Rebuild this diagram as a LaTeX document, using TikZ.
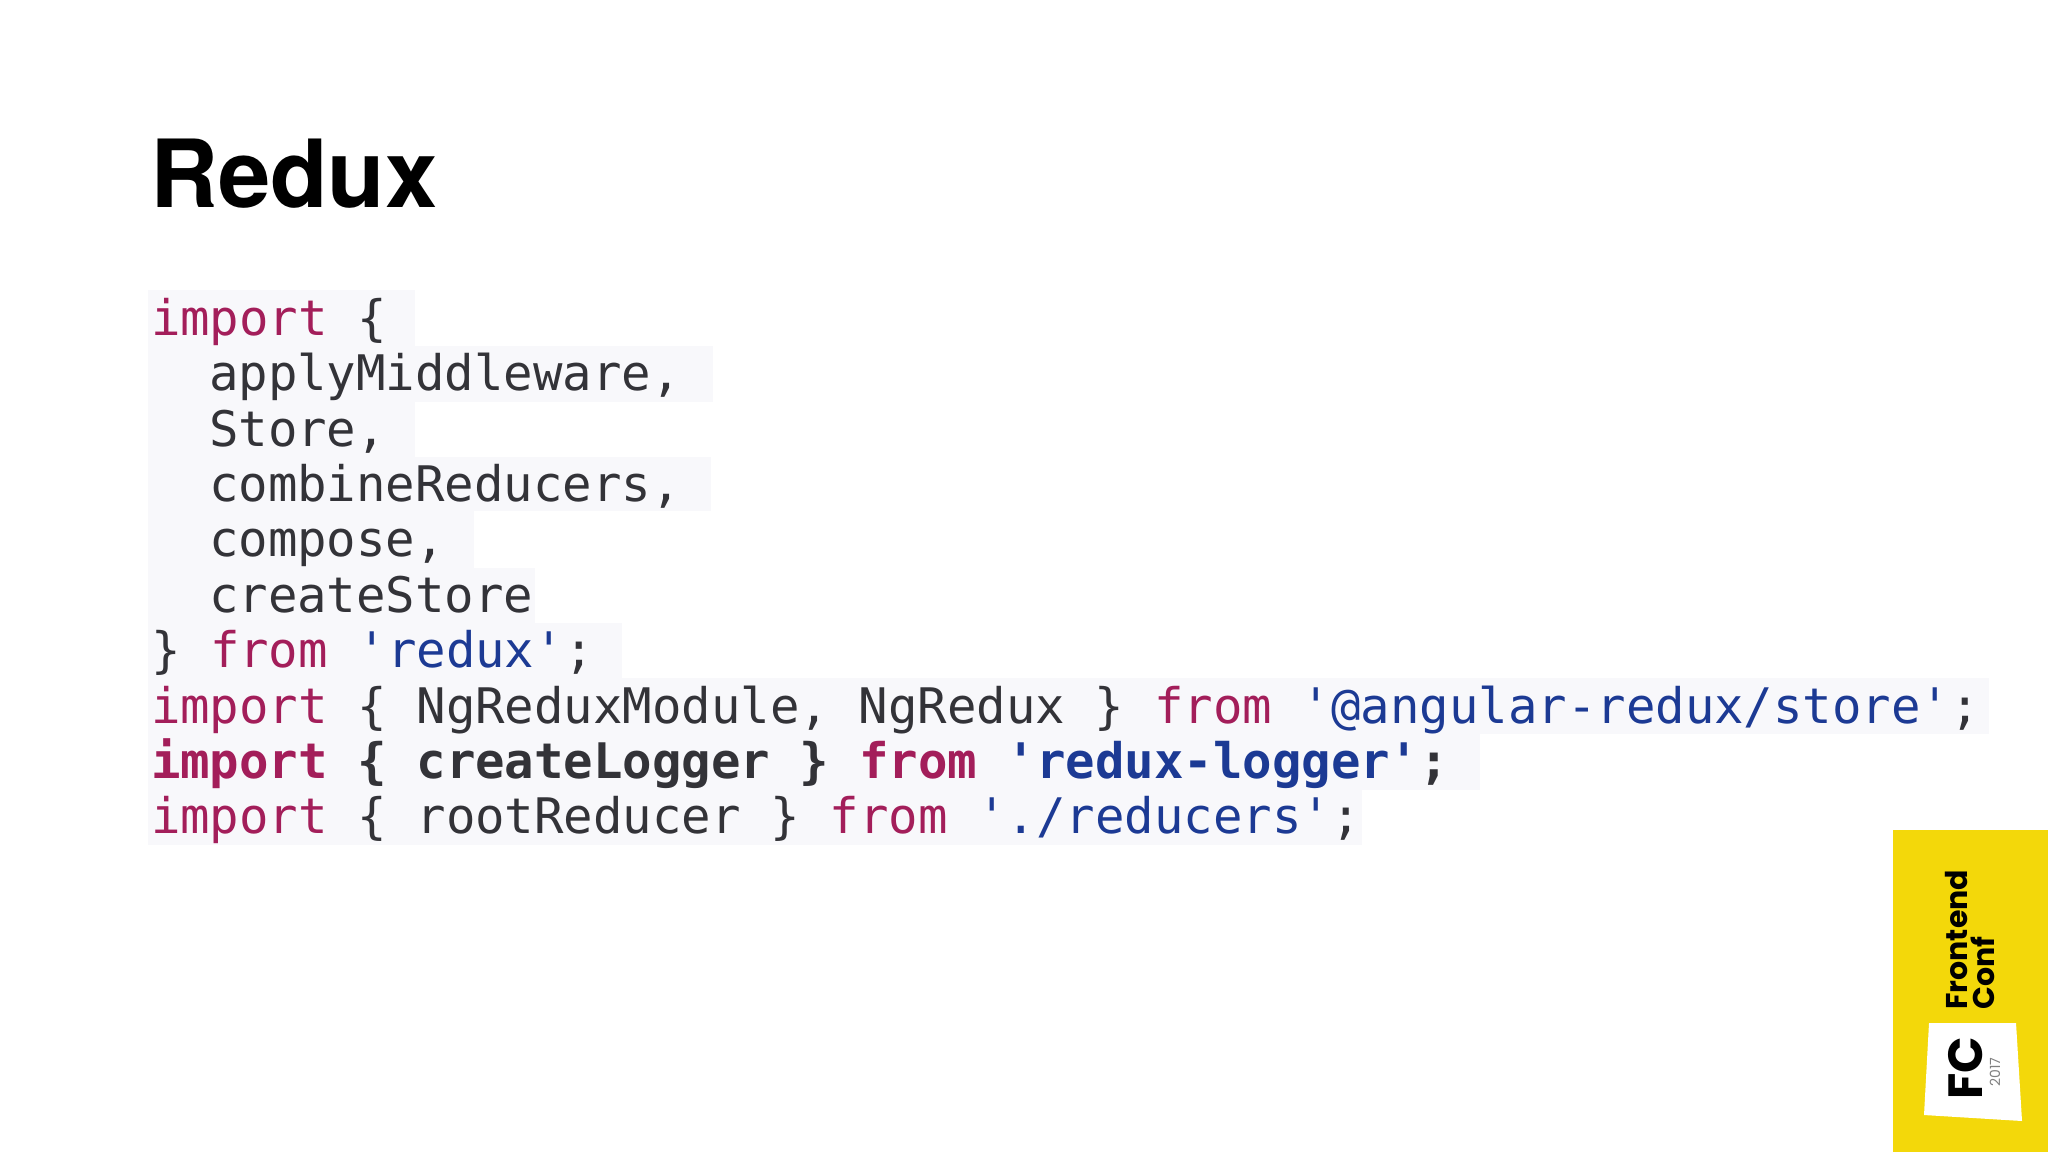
\documentclass[tikz,border=0pt]{standalone}
\usepackage{fontspec}
\newfontfamily\codefont{DejaVu Sans Mono}
\newfontfamily\titlefont{TeX Gyre Heros}
\newfontfamily\logofont{Poppins}
\definecolor{kwcol}{HTML}{A31E5A}
\definecolor{strcol}{HTML}{1C3A94}
\definecolor{txtcol}{HTML}{333338}
\definecolor{bgcol}{HTML}{F8F8FB}
\definecolor{fcyellow}{HTML}{F3D80A}
\newcommand{\ckw}[1]{\textcolor{kwcol}{#1}}
\newcommand{\cstr}[1]{\textcolor{strcol}{#1}}
\tikzset{
  codeline/.style={anchor=base west,inner sep=0pt,outer sep=0pt,text=txtcol,font=\fontsize{24.5pt}{24.5pt}\codefont},
  boldline/.style={codeline,font=\fontsize{24.5pt}{24.5pt}\codefont\bfseries},
  bgbar/.style={fill=bgcol,draw=none},
  logotext/.style={anchor=base west,rotate=90,inner sep=0pt,font=\fontsize{15pt}{15pt}\logofont\bfseries},
}
\begin{document}
\begin{tikzpicture}[x=0.5pt,y=-0.5pt]
\useasboundingbox (0,0) rectangle (2048,1152);
\fill[white] (0,0) rectangle (2048,1152);
% code backgrounds
\fill[bgbar] (148,290) rectangle (415,346);
\fill[bgbar] (148,346) rectangle (713,402);
\fill[bgbar] (148,402) rectangle (415,457);
\fill[bgbar] (148,457) rectangle (711,511);
\fill[bgbar] (148,511) rectangle (474,568);
\fill[bgbar] (148,568) rectangle (535,623);
\fill[bgbar] (148,623) rectangle (622,678);
\fill[bgbar] (148,678) rectangle (1989,734);
\fill[bgbar] (148,734) rectangle (1480,790);
\fill[bgbar] (148,790) rectangle (1362,845);
% title
\node[anchor=base west,inner sep=0pt,font=\fontsize{47pt}{47pt}\titlefont\bfseries] (title) at (150,207) {Redux};
% code
\node[codeline] (l1) at (151,335) {\ckw{import} \{};
\node[codeline] (l2) at (209,390) {applyMiddleware,};
\node[codeline] (l3) at (209,446) {Store,};
\node[codeline] (l4) at (209,501) {combineReducers,};
\node[codeline] (l5) at (209,556) {compose,};
\node[codeline] (l6) at (209,612) {createStore};
\node[codeline] (l7) at (151,667) {\} \ckw{from} \cstr{'redux'};};
\node[codeline] (l8) at (151,723) {\ckw{import} \{ NgReduxModule, NgRedux \} \ckw{from} \cstr{'@angular-redux/store'};};
\node[boldline] (l9) at (151,778) {\ckw{import} \{ createLogger \} \ckw{from} \cstr{'redux-logger'};};
\node[codeline] (l10) at (151,833) {\ckw{import} \{ rootReducer \} \ckw{from} \cstr{'./reducers'};};
% logo
\fill[fcyellow] (1893,830) rectangle (2048,1152);
\fill[white] (1929,1023) -- (2016,1023) -- (2022,1121) -- (1924,1115) -- cycle;
\node[logotext] (front) at (1967,1010) {Frontend};
\node[logotext] (conf) at (1994,1010) {Conf};
\node[logotext,font=\fontsize{24pt}{24pt}\logofont\bfseries] (fc) at (1982,1100) {FC};
\node[anchor=base west,rotate=90,inner sep=0pt,text=black!50,font=\fontsize{7pt}{7pt}\logofont] (yr) at (2000,1087) {2017};
\end{tikzpicture}
\end{document}
